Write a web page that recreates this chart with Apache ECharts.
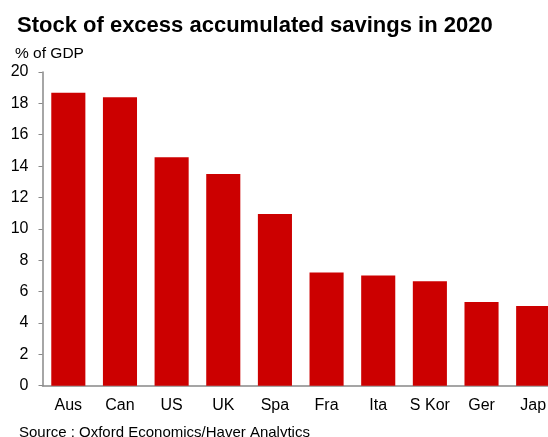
<!DOCTYPE html>
<html>
<head>
<meta charset="utf-8">
<script src="https://cdn.jsdelivr.net/npm/echarts@6/dist/echarts.min.js"></script>
<style>
html,body{margin:0;padding:0;background:#fff;}
#chart{width:548px;height:437px;}
</style>
</head>
<body>
<div id="chart"></div>
<script>
const categories = ["Aus", "Can", "US", "UK", "Spa", "Fra", "Ita", "S Kor", "Ger", "Jap"];
const savings = [18.67, 18.39, 14.57, 13.5, 10.95, 7.21, 7.02, 6.66, 5.34, 5.08];
const yTicks = { min: 0, max: 20, interval: 2 };

const chart = echarts.init(document.getElementById('chart'), null, { renderer: 'canvas' });
const font = '"Liberation Sans", Arial, sans-serif';
chart.setOption({
  animation: false,
  backgroundColor: '#ffffff',
  title: [
    { text: 'Stock of excess accumulated savings in 2020', left: 12, top: 10,
      textStyle: { fontFamily: font, fontSize: 22, fontWeight: 'bold', color: '#000' } },
    { text: '% of GDP', left: 10, top: 41,
      textStyle: { fontFamily: font, fontSize: 15.5, fontWeight: 'normal', color: '#000' } },
    { text: 'Source : Oxford Economics/Haver Analytics', left: 14, top: 420,
      textStyle: { fontFamily: font, fontSize: 15, fontWeight: 'normal', color: '#000' } }
  ],
  grid: { left: 42.5, width: 516.5, top: 72, bottom: 51.3, containLabel: false, outerBoundsMode: 'none' },
  xAxis: {
    type: 'category',
    data: categories,
    axisLine: { lineStyle: { color: '#888', width: 1.5 } },
    axisTick: { show: false },
    axisLabel: { fontFamily: font, fontSize: 16, color: '#000', margin: 12, interval: 0 }
  },
  yAxis: {
    type: 'value',
    min: yTicks.min, max: yTicks.max, interval: yTicks.interval,
    axisLine: { show: true, lineStyle: { color: '#888', width: 1.5 } },
    axisTick: { show: true, length: 4, lineStyle: { color: '#888' } },
    splitLine: { show: false },
    axisLabel: { fontFamily: font, fontSize: 16, color: '#000', margin: 14 }
  },
  series: [{
    type: 'bar',
    data: savings,
    barWidth: '66%',
    itemStyle: { color: '#CC0000' }
  }]
});
</script>
</body>
</html>
